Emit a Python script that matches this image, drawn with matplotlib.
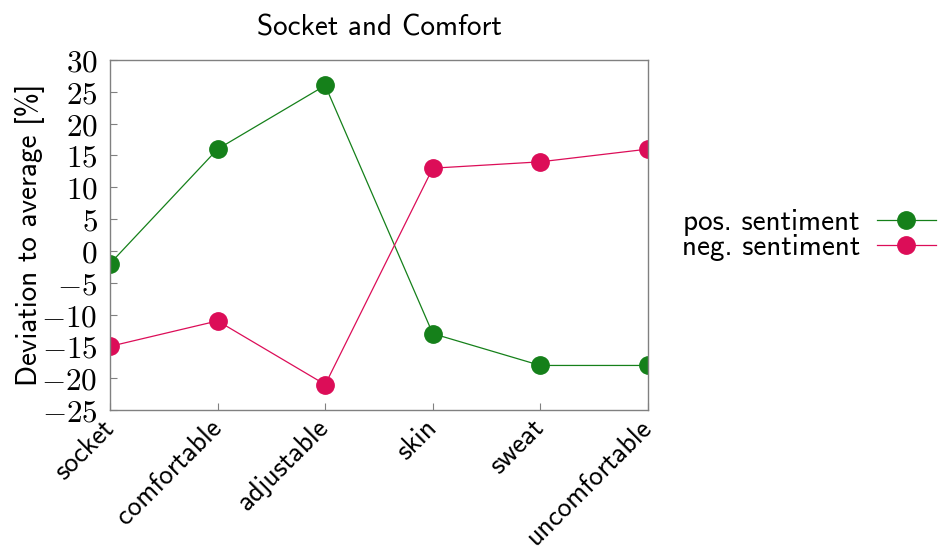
import numpy as np
import matplotlib.pyplot as plt

# Data
terms = ['socket', 'comfortable', 'adjustable', 'skin', 'sweat', 'uncomfortable']
pos_sentiment = [-2, 16, 26, -13, -18, -18]
neg_sentiment = [-15, -11, -21, 13, 14, 16]
yticks = np.arange(-25, 31, 5)

green = '#15801a'
red = '#dc0d58'
axis_gray = '#808080'

plt.rcParams['mathtext.fontset'] = 'cm'
plt.rcParams['axes.formatter.use_mathtext'] = True
sans = 'cmss10'

fig = plt.figure(figsize=(9.42, 5.51), dpi=100)
ax = fig.add_axes([110/942, 1-410/551, (648-110)/942, 350/551])

x = np.arange(len(terms))
ax.plot(x, pos_sentiment, color=green, lw=0.9, marker='o', ms=12.5, label='pos. sentiment')
ax.plot(x, neg_sentiment, color=red, lw=0.9, marker='o', ms=12.5, label='neg. sentiment')

ax.set_xlim(0, len(terms)-1)
ax.set_ylim(-25, 30)
ax.set_yticks(yticks)
ax.set_yticklabels([r'$%d$' % v for v in yticks], fontsize=22.5)
ax.set_xticks(x)
ax.set_xticklabels(terms, rotation=45, ha='right', va='center', rotation_mode='anchor',
                   fontsize=20, family=sans)

for s in ax.spines.values():
    s.set_color(axis_gray)
    s.set_linewidth(1.0)
ax.tick_params(direction='in', length=5, color=axis_gray, width=0.8)
ax.tick_params(axis='y', pad=9)
ax.tick_params(axis='x', pad=10)

ax.set_ylabel('Deviation to average [%]', fontsize=21, family=sans, labelpad=-3)
ax.set_title('Socket and Comfort', fontsize=21, family=sans, pad=18)

ax.legend(loc='center left', bbox_to_anchor=(1.0, 0.5), frameon=False, markerfirst=False,
          prop={'family': sans, 'size': 21}, handlelength=2.0, handletextpad=0.6,
          labelspacing=-0.08, borderaxespad=0.75)

fig.savefig('out.png', dpi=100)
